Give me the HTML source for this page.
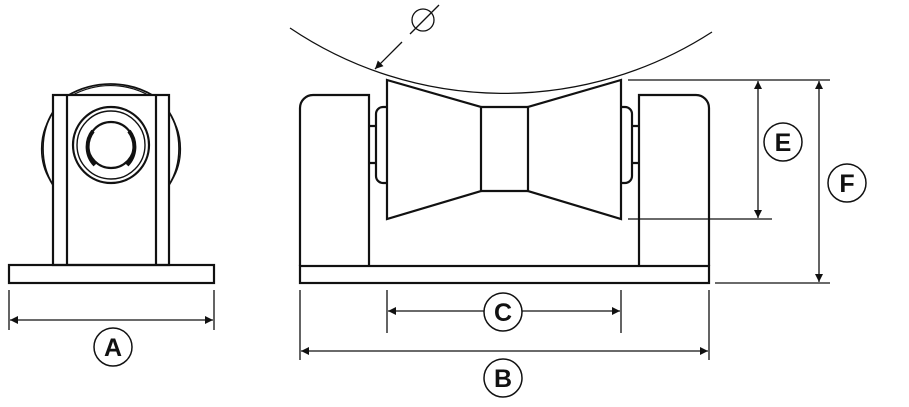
<!DOCTYPE html>
<html><head><meta charset="utf-8"><style>
html,body{margin:0;padding:0;background:#fff;}
svg{display:block}
text{font-family:"Liberation Sans",sans-serif;font-weight:bold;font-size:25px;fill:#111;text-anchor:middle}
</style></head><body>
<svg width="909" height="407" viewBox="0 0 909 407" xmlns="http://www.w3.org/2000/svg">
<defs>
<marker id="ar" viewBox="0 0 10 10" refX="10" refY="5" markerWidth="14" markerHeight="8" markerUnits="userSpaceOnUse" orient="auto-start-reverse">
<path d="M0,0 L10,5 L0,10 z" fill="#111"/></marker>
</defs>
<g fill="none" stroke="#111" stroke-width="2.2">
<!-- left view -->
<path d="M67,96 A85,85 0 0 1 154,96" stroke-width="1.8"/>
<path d="M71,96 A80,80 0 0 1 150,96" stroke-width="1.2"/>
<path d="M53,112 A40,55 0 0 0 53,185" stroke-width="1.8"/>
<path d="M50,118 A36,48 0 0 0 50,180" stroke-width="1.2"/>
<path d="M169,112 A40,55 0 0 1 169,185" stroke-width="1.8"/>
<path d="M172,118 A36,48 0 0 1 172,180" stroke-width="1.2"/>
<rect x="53" y="95" width="116" height="170" fill="#fff"/>
<line x1="67" y1="95" x2="67" y2="265"/>
<line x1="156" y1="95" x2="156" y2="265"/>
<circle cx="111" cy="145" r="38"/>
<circle cx="111" cy="145" r="34" stroke-width="1.4"/>
<circle cx="111" cy="145" r="23"/>
<path d="M93,131 A26,26 0 0 0 95,165 M129,131 A26,26 0 0 1 127,165" stroke-width="4"/>
<rect x="9" y="265" width="205" height="18"/>
<!-- main view -->
<path d="M290,28 A383,383 0 0 0 712,32" stroke-width="1.3"/>
<path d="M300,266 V108 A13,13 0 0 1 313,95 H369 V266"/>
<path d="M709,266 V108 A13,13 0 0 0 696,95 H639 V266"/>
<rect x="300" y="266" width="409" height="17"/>
<path d="M387,80 L481,107 L481,191 L387,219 Z"/>
<path d="M621,80 L528,107 L528,191 L621,219 Z"/>
<line x1="481" y1="107" x2="528" y2="107"/>
<line x1="481" y1="191" x2="528" y2="191"/>
<path d="M387,107 H383 A7,7 0 0 0 376,114 V176 A7,7 0 0 0 383,183 H387"/>
<path d="M369,126 H376 M369,163 H376"/>
<path d="M621,107 H625 A7,7 0 0 1 632,114 V176 A7,7 0 0 1 625,183 H621"/>
<path d="M632,126 H639 M632,163 H639"/>
</g>
<g fill="none" stroke="#111" stroke-width="1.3">
<circle cx="423" cy="20" r="11"/>
<line x1="439" y1="5" x2="410" y2="34"/>
<line x1="402" y1="42" x2="375" y2="69" marker-end="url(#ar)"/>
<line x1="628" y1="80" x2="830" y2="80"/>
<line x1="628" y1="219" x2="772" y2="219"/>
<line x1="715" y1="283" x2="830" y2="283"/>
<line x1="758" y1="81" x2="758" y2="218" marker-start="url(#ar)" marker-end="url(#ar)"/>
<line x1="819" y1="81" x2="819" y2="282" marker-start="url(#ar)" marker-end="url(#ar)"/>
<line x1="9" y1="290" x2="9" y2="330"/><line x1="214" y1="290" x2="214" y2="330"/>
<line x1="10" y1="320" x2="213" y2="320" marker-start="url(#ar)" marker-end="url(#ar)"/>
<line x1="387" y1="290" x2="387" y2="333"/><line x1="621" y1="290" x2="621" y2="333"/>
<line x1="388" y1="311" x2="620" y2="311" marker-start="url(#ar)" marker-end="url(#ar)"/>
<line x1="300" y1="290" x2="300" y2="360"/><line x1="709" y1="290" x2="709" y2="360"/>
<line x1="301" y1="351" x2="708" y2="351" marker-start="url(#ar)" marker-end="url(#ar)"/>
</g>
<g fill="#fff" stroke="#111" stroke-width="1.5">
<circle cx="113" cy="347" r="19"/>
<circle cx="503" cy="312" r="19"/>
<circle cx="503" cy="378" r="19"/>
<circle cx="783" cy="142" r="19"/>
<circle cx="847" cy="183" r="19"/>
</g>
<text x="113" y="356">A</text>
<text x="503" y="321">C</text>
<text x="503" y="387">B</text>
<text x="783" y="151">E</text>
<text x="847" y="192">F</text>
</svg>
</body></html>
